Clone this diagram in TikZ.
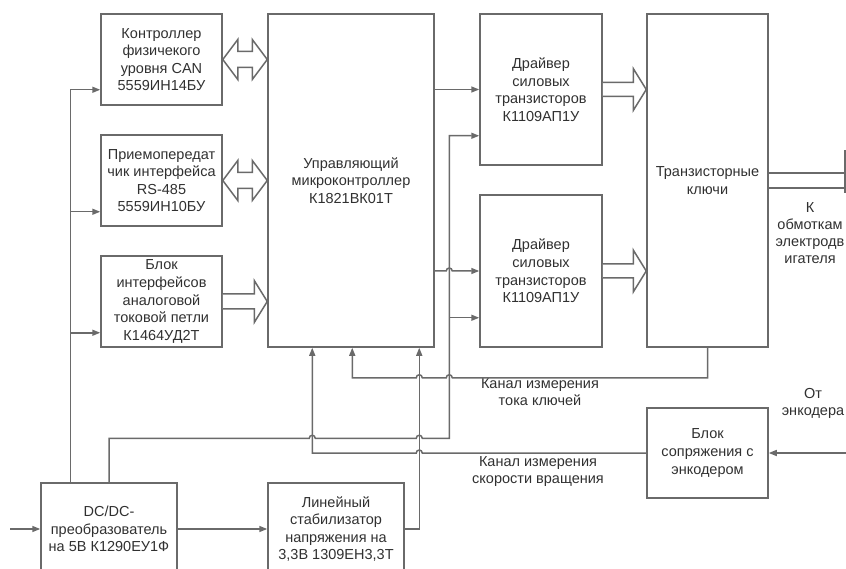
\documentclass[tikz,border=0pt]{standalone}
\usepackage{fontspec}
\setmainfont{Liberation Sans}
\usetikzlibrary{arrows.meta,calc}
\definecolor{lc}{HTML}{6A6A6A}
\definecolor{tc}{HTML}{303030}
\begin{document}
\begin{tikzpicture}[x=1pt,y=-1pt,
  line/.style={draw=lc, line width=1.5pt},
  box/.style={draw=lc, line width=1.5pt, align=center, inner sep=0pt, text=tc,
    font=\fontsize{14.5}{17.6}\selectfont},
  lab/.style={align=center, inner sep=0pt, text=tc, font=\fontsize{14.5}{17}\selectfont},
  arr/.style={line, -{Triangle[length=8pt,width=6pt]}},
  hollow/.style={draw=lc, line width=1.5pt, fill=white, line join=miter}
]
\useasboundingbox (0,0) rectangle (846,569);
\clip (0,0) rectangle (846,569);

% boxes
\node[box, minimum width=121, minimum height=91] (can) at (161.5,59.5)
  {Контроллер\\физичекого\\уровня CAN\\5559ИН14БУ};
\node[box, minimum width=121, minimum height=91] (rs) at (161.5,180.5)
  {Приемопередат\\чик интерфейса\\RS-485\\5559ИН10БУ};
\node[box, minimum width=121, minimum height=91] (ai) at (161.5,301.5)
  {Блок\\интерфейсов\\аналоговой\\токовой петли\\К1464УД2Т};
\node[box, minimum width=166, minimum height=333] (mcu) at (351,180.5)
  {Управляющий\\микроконтроллер\\К1821ВК01Т};
\node[box, minimum width=122, minimum height=151] (dr1) at (541,89.5)
  {Драйвер\\силовых\\транзисторов\\К1109АП1У};
\node[box, minimum width=122, minimum height=152] (dr2) at (541,271)
  {Драйвер\\силовых\\транзисторов\\К1109АП1У};
\node[box, minimum width=121, minimum height=333] (tk) at (707.5,180.5)
  {Транзисторные\\ключи};
\node[box, minimum width=121, minimum height=90] (enc) at (707.5,453)
  {Блок\\сопряжения с\\энкодером};
\node[box, minimum width=136, minimum height=92] (dc) at (109,529)
  {DC/DC-\\преобразователь\\на 5В К1290ЕУ1Ф};
\node[box, minimum width=136, minimum height=92] (ls) at (336,529)
  {Линейный\\стабилизатор\\напряжения на\\3,3В 1309ЕН3,3Т};

% labels
\node[lab] (l1) at (540,392.5) {Канал измерения\\тока ключей};
\node[lab] (l2) at (538,472) {Канал измерения\\скорости вращения};
\node[lab] (l3) at (810,233) {К\\обмоткам\\электродв\\игателя};
\node[lab] (l4) at (813,403) {От\\энкодера};

% helper coordinates
\coordinate (bt) at ($(dc.north west)+(30,0)$);
\coordinate (bcan) at ($(can.south west)+(0,-16)$);
\coordinate (brs) at ($(rs.south west)+(0,-15)$);
\coordinate (bai) at ($(ai.south west)+(0,-15)$);
\coordinate (pv) at ($(dr1.south west)+(-30,0)$);
\coordinate (d1in) at ($(dr1.south west)+(0,-30)$);
\coordinate (d2in) at ($(dr2.south west)+(0,-30)$);
\coordinate (m1) at ($(mcu.south west)+(45,0)$);
\coordinate (m2) at ($(mcu.south west)+(85,0)$);
\coordinate (m3) at ($(mcu.south west)+(152,0)$);
\coordinate (p5) at ($(dc.north)+(0,-44)$);
\coordinate (ic) at ($(tk.south)+(0,30)$);
\coordinate (vin) at (10,529);
\coordinate (encin) at (846,453);
\coordinate (o1) at (845,173);
\coordinate (o2) at (845,188);
\coordinate (ot) at (845,150);
\coordinate (ob) at (845,193);

% hollow arrows
\draw[hollow] (can.east) -- ++(15,-20) -- ++(0,12) -- ($(mcu.west|-can.east)+(-15,-8)$)
  -- ++(0,-12) -- (mcu.west|-can.east) -- ++(-15,20) -- ++(0,-12)
  -- ($(can.east)+(15,8)$) -- ++(0,12) -- cycle;
\draw[hollow] (rs.east) -- ++(15,-20) -- ++(0,12) -- ($(mcu.west|-rs.east)+(-15,-8)$)
  -- ++(0,-12) -- (mcu.west|-rs.east) -- ++(-15,20) -- ++(0,-12)
  -- ($(rs.east)+(15,8)$) -- ++(0,12) -- cycle;
\draw[hollow] ($(ai.east)+(0,-7.5)$) -- ($(mcu.west|-ai.east)+(-13,-7.5)$) -- ++(0,-13.5)
  -- (mcu.west|-ai.east) -- ++(-13,21) -- ++(0,-13.5) -- ($(ai.east)+(0,7.5)$);
\draw[hollow] ($(dr1.east)+(0,-7)$) -- ($(tk.west|-dr1.east)+(-13,-7)$) -- ++(0,-14)
  -- (tk.west|-dr1.east) -- ++(-13,21) -- ++(0,-14) -- ($(dr1.east)+(0,7)$);
\draw[hollow] ($(dr2.east)+(0,-7)$) -- ($(tk.west|-dr2.east)+(-13,-7)$) -- ++(0,-14)
  -- (tk.west|-dr2.east) -- ++(-13,21) -- ++(0,-14) -- ($(dr2.east)+(0,7)$);

% left bus
\draw[arr] (bt) |- (bcan);
\draw[arr] (bt|-brs) -- (brs);
\draw[arr] (bt|-bai) -- (bai);

% MCU -> drivers
\draw[arr] (mcu.east|-dr1.west) -- (dr1.west);
\draw[arr] (mcu.east|-dr2.west) -- ($(pv|-dr2.west)+(-3,0)$)
  arc[start angle=180,end angle=360,radius=3] -- (dr2.west);

% 5V supply to drivers
\draw[arr] (dc.north) -- (p5) -- ($(m1|-p5)+(-3,0)$)
  arc[start angle=180,end angle=360,radius=3] -- ($(m3|-p5)+(-3,0)$)
  arc[start angle=180,end angle=360,radius=3] -- (pv|-p5) |- (d1in);
\draw[arr] (pv|-d2in) -- (d2in);

% current measurement
\draw[arr] (tk.south) -- (ic) -- ($(pv|-ic)+(3,0)$)
  arc[start angle=0,end angle=-180,radius=3] -- ($(m3|-ic)+(3,0)$)
  arc[start angle=0,end angle=-180,radius=3] -- (m2|-ic) -- (m2);

% speed measurement
\draw[arr] (enc.west) -- ($(m3|-enc.west)+(3,0)$)
  arc[start angle=0,end angle=-180,radius=3] -- (m1|-enc.west) -- (m1);

% 3.3V supply
\draw[arr] (ls.east) -- (m3|-ls.east) -- (m3);

% power chain
\draw[arr] (vin) -- (dc.west);
\draw[arr] (dc.east) -- (ls.west);

% encoder input
\draw[arr] (encin) -- (enc.east);

% outputs to motor windings
\draw[line] (tk.east|-o1) -- (o1);
\draw[line] (tk.east|-o2) -- (o2);
\draw[line] (ot) -- (ob);
\end{tikzpicture}
\end{document}
